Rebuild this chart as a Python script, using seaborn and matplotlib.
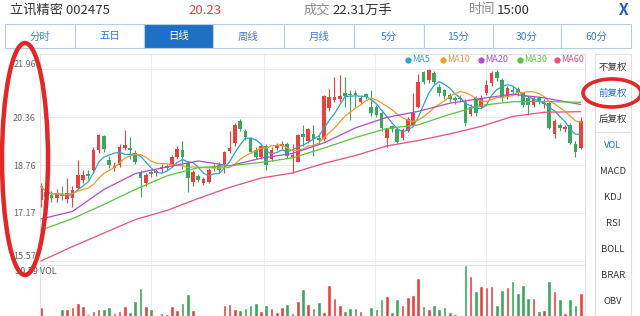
import numpy as np
import pandas as pd
import matplotlib
matplotlib.use("Agg")
import matplotlib.pyplot as plt
import seaborn as sns
from matplotlib.patches import Ellipse, Rectangle
from matplotlib.lines import Line2D

sns.set_theme(style="white")
plt.rcParams['font.family'] = ['Noto Sans CJK SC', 'DejaVu Sans']

# ---------------- data ----------------
stock_name = "立讯精密 002475"
last_price = "20.23"
volume_text = "22.31万手"
time_text = "15:00"

opens = [17.60, 17.85, 17.78, 17.66, 17.80, 17.65, 17.66, 17.99, 18.27, 18.47,
         18.60, 19.27, 19.73, 18.93, 18.68, 18.77, 19.32, 19.33, 19.15, 18.54,
         18.18, 18.52, 18.50, 18.62, 18.72, 18.77, 19.04, 19.27, 18.82, 18.21,
         18.40, 18.18, 18.21, 18.72, 18.77, 18.80, 19.24, 19.49, 20.23, 19.88,
         19.65, 19.27, 19.02, 19.40, 18.95, 19.32, 19.40, 19.47, 19.02, 18.88,
         19.80, 19.56, 19.80, 19.68, 19.62, 20.65, 20.93, 20.95, 21.15, 21.12,
         21.15, 20.87, 21.12, 20.71, 20.68, 20.49, 19.65, 20.05, 19.95, 19.65,
         19.91, 20.10, 20.71, 21.85, 21.60, 21.82, 21.37, 21.26, 21.09, 21.00,
         21.00, 20.87, 20.46, 20.98, 20.71, 21.15, 21.48, 21.87, 21.60, 21.04,
         21.25, 21.30, 21.15, 21.00, 20.76, 21.00, 20.80, 20.82, 19.80, 20.10,
         19.97, 20.10, 19.47, 19.33]
highs = [18.16, 17.95, 17.90, 17.95, 18.05, 18.32, 18.05, 18.93, 18.60, 18.60,
         19.35, 19.80, 19.76, 19.05, 18.85, 19.45, 19.93, 19.70, 19.25, 18.60,
         18.50, 18.60, 18.62, 18.80, 18.80, 19.10, 19.40, 19.55, 18.90, 18.60,
         18.45, 18.35, 18.65, 18.80, 18.85, 19.22, 19.88, 20.15, 20.30, 19.95,
         19.70, 19.35, 19.45, 19.45, 19.35, 19.50, 19.55, 19.52, 19.47, 19.80,
         20.10, 20.00, 20.10, 19.75, 21.10, 21.30, 21.71, 21.76, 21.70, 21.25,
         21.26, 21.05, 21.15, 21.26, 20.75, 20.55, 20.00, 20.10, 20.00, 20.00,
         20.35, 21.15, 21.80, 21.90, 21.96, 21.88, 21.45, 21.30, 21.15, 21.05,
         21.10, 20.95, 20.80, 21.05, 21.10, 21.60, 21.88, 21.92, 21.65, 21.40,
         21.40, 21.35, 21.20, 21.05, 21.05, 21.05, 20.95, 20.90, 20.30, 20.15,
         20.10, 20.15, 19.55, 20.35]
lows = [17.38, 17.60, 17.55, 17.55, 17.60, 17.50, 17.38, 17.95, 18.15, 18.30,
        18.55, 19.15, 19.20, 18.65, 18.55, 18.70, 19.25, 18.95, 18.80, 17.71,
        18.05, 18.35, 18.40, 18.50, 18.55, 18.70, 18.95, 18.62, 17.88, 18.05,
        18.20, 18.10, 18.15, 18.55, 18.50, 18.50, 19.15, 19.40, 19.90, 19.60,
        19.15, 18.95, 18.98, 18.60, 18.90, 19.25, 19.30, 19.00, 18.49, 18.85,
        19.40, 19.50, 19.05, 19.45, 19.55, 20.55, 20.85, 20.85, 20.70, 20.26,
        20.70, 20.80, 20.95, 20.40, 20.35, 19.90, 19.38, 19.85, 19.50, 19.60,
        19.85, 20.05, 20.65, 21.45, 21.50, 21.45, 21.05, 20.95, 20.85, 20.80,
        20.85, 20.05, 20.40, 20.40, 20.65, 21.10, 21.40, 21.55, 20.90, 20.95,
        21.10, 21.05, 20.70, 20.42, 20.70, 20.78, 20.65, 19.95, 19.65, 19.90,
        19.85, 19.45, 19.04, 19.30]
closes = [18.05, 17.70, 17.68, 17.80, 17.72, 17.82, 17.93, 18.43, 18.43, 18.40,
          19.27, 19.76, 19.29, 18.77, 18.73, 19.38, 19.43, 19.27, 18.88, 18.32,
          18.43, 18.45, 18.55, 18.71, 18.66, 19.04, 19.29, 19.04, 18.32, 18.54,
          18.27, 18.29, 18.60, 18.65, 18.60, 19.19, 19.34, 20.10, 19.95, 19.71,
          19.21, 19.04, 19.40, 18.77, 19.27, 19.43, 19.47, 19.07, 19.10, 19.76,
          19.71, 19.95, 19.62, 19.60, 21.06, 21.02, 21.04, 21.05, 21.06, 21.10,
          21.08, 20.98, 21.04, 20.49, 20.43, 19.99, 19.95, 19.95, 19.54, 19.93,
          20.29, 20.49, 21.54, 21.54, 21.93, 21.54, 21.15, 21.06, 20.95, 20.93,
          20.95, 20.15, 20.71, 20.49, 20.98, 21.43, 21.82, 21.65, 20.98, 21.32,
          21.20, 21.15, 20.76, 20.76, 20.95, 20.85, 20.83, 19.99, 20.24, 19.99,
          20.02, 19.49, 19.21, 20.23]
volumes = [18.1, 15.6, 12.0, 13.0, 17.3, 17.5, 17.9, 19.3, 18.2, 15.9,
           16.7, 17.4, 17.4, 18.1, 16.2, 16.9, 18.3, 16.5, 19.8, 23.7,
           18.3, 17.4, 15.6, 16.3, 15.9, 18.3, 17.1, 19.3, 21.8, 17.0,
           15.5, 13.0, 12.5, 13.5, 15.5, 18.5, 18.9, 17.3, 17.2, 17.7,
           18.6, 19.1, 16.8, 18.6, 17.6, 16.6, 17.9, 18.9, 16.2, 19.8,
           23.5, 18.9, 17.6, 19.4, 16.6, 24.6, 20.6, 18.5, 16.8, 17.7,
           17.6, 16.8, 14.0, 18.1, 17.4, 20.3, 21.3, 16.4, 20.5, 18.5,
           20.9, 21.6, 26.6, 18.3, 17.3, 18.6, 17.3, 18.1, 16.5, 16.0,
           15.6, 30.59, 27.2, 22.7, 24.4, 24.1, 24.3, 18.6, 23.1, 24.0,
           25.8, 22.3, 24.6, 20.6, 20.7, 16.8, 17.0, 25.8, 22.8, 20.3,
           16.3, 20.4, 18.6, 22.31]

ma_idx = [0, 6, 12, 18, 24, 30, 36, 42, 48, 54, 60, 66, 72, 78, 84, 90, 96, 103]
ma20 = [16.97, 17.22, 17.95, 18.48, 18.70, 18.90, 18.74, 18.99, 19.15, 19.50,
        20.00, 20.35, 20.55, 20.82, 20.98, 21.12, 21.00, 20.78]
ma30 = [16.60, 16.98, 17.45, 17.95, 18.40, 18.68, 18.74, 18.85, 19.00, 19.33,
        19.68, 19.98, 20.10, 20.45, 20.75, 20.87, 20.88, 20.85]
ma60 = [15.57, 16.05, 16.50, 16.95, 17.25, 17.65, 18.02, 18.33, 18.50, 18.82,
        19.08, 19.40, 19.58, 19.80, 20.05, 20.38, 20.52, 20.54]

price_ticks = [21.96, 20.36, 18.76, 17.17, 15.57]
vol_max = 30.59
tabs = ['分时', '五日', '日线', '周线', '月线', '5分', '15分', '30分', '60分']
side_items = ['不复权', '前复权', '后复权', 'VOL', 'MACD', 'KDJ', 'RSI', 'BOLL', 'BRAR', 'OBV']
ma_names = ['MA5', 'MA10', 'MA20', 'MA30', 'MA60']

# ---------------- style ----------------
RED = '#e8423f'
GREEN = '#3da65e'
MA_COLORS = ['#27a7c9', '#ee9b2c', '#b04ad2', '#5ac43c', '#e8507a']
GRID = '#ececec'
BLUE = '#1f6fc5'

W, H = 640, 316
def fx(x): return x / W
def fy(y): return 1 - y / H

fig = plt.figure(figsize=(W / 100, H / 100), dpi=100)
fig.patch.set_facecolor('white')

left_px, right_px = 40, 585
ax = fig.add_axes([fx(left_px), fy(265), fx(right_px) - fx(left_px), fy(54) - fy(265)])
axv = fig.add_axes([fx(left_px), fy(367), fx(right_px) - fx(left_px), fy(265) - fy(367)])

n = len(closes)
idx = np.arange(n)
o = np.array(opens); c = np.array(closes); hi = np.array(highs); lo = np.array(lows)
up = c >= o
cols = np.where(up, RED, GREEN)

# candles
ax.vlines(idx, lo, hi, colors=cols, lw=0.8, zorder=2)
body_bot = np.minimum(o, c)
body_h = np.maximum(np.abs(c - o), 0.035)
ax.bar(idx, body_h, bottom=body_bot, width=0.7, color=cols, lw=0, zorder=2)

# moving averages
close_s = pd.Series(closes)
ma5 = close_s.rolling(5, min_periods=1).mean()
ma10 = close_s.rolling(10, min_periods=1).mean()
sns.lineplot(x=idx, y=ma5.values, color=MA_COLORS[0], lw=0.9, ax=ax, zorder=3)
sns.lineplot(x=idx, y=ma10.values, color=MA_COLORS[1], lw=0.9, ax=ax, zorder=3)
sns.lineplot(x=ma_idx, y=ma20, color=MA_COLORS[2], lw=0.9, ax=ax, zorder=3)
sns.lineplot(x=ma_idx, y=ma30, color=MA_COLORS[3], lw=0.9, ax=ax, zorder=3)
sns.lineplot(x=ma_idx, y=ma60, color=MA_COLORS[4], lw=0.9, ax=ax, zorder=3)

# price axis scale: max label at y=69 px, min label at y=261 px
p_max, p_min = price_ticks[0], price_ticks[-1]
ppu = (261 - 69) / (p_max - p_min)
ax.set_ylim(p_max - (265 - 69) / ppu, p_max + (69 - 54) / ppu)
step = (580.7 - 41) / (n - 1)
xl = ((left_px - 41) / step, (right_px - 41) / step)
ax.set_xlim(*xl)
ax.set_yticks(price_ticks)
ax.set_yticklabels([f"{t:.2f}" for t in price_ticks])
ax.tick_params(axis='y', length=0, pad=3, labelsize=6.5, labelcolor='#666666')
ax.set_xticks([])
ax.yaxis.get_ticklabels()[0].set_va('bottom')
ax.yaxis.get_ticklabels()[-1].set_va('bottom')
for t in price_ticks:
    ax.axhline(t, color=GRID, lw=0.7, zorder=0)
for xv in [21, 42.5, 63.7, 85]:
    ax.axvline(xv, color=GRID, lw=0.7, zorder=0)
    axv.axvline(xv, color=GRID, lw=0.7, zorder=0)
for sp in ax.spines.values():
    sp.set_color('#e2e2e2'); sp.set_linewidth(0.8)
ax.set_xlabel(''); ax.set_ylabel('')

# volume
df_v = pd.DataFrame({'i': idx, 'vol': volumes, 'dir': np.where(up, 'up', 'down')})
sns.barplot(data=df_v, x='i', y='vol', hue='dir', palette={'up': RED, 'down': GREEN},
            native_scale=True, dodge=False, width=0.7, errorbar=None, legend=False,
            saturation=1, ax=axv, zorder=2)
axv.set_xlim(*xl)
axv.set_ylim(0, vol_max)
axv.set_xticks([]); axv.set_yticks([])
axv.set_xlabel(''); axv.set_ylabel('')
for sp in axv.spines.values():
    sp.set_color('#e2e2e2'); sp.set_linewidth(0.8)
fig.text(fx(15), fy(271), f"{vol_max:.2f} VOL", fontsize=6.5, color='#555555', va='center', ha='left')

# legend
leg_dot_x = [408, 443, 481, 520, 557]
for name, colr, xd in zip(ma_names, MA_COLORS, leg_dot_x):
    fig.add_artist(Line2D([fx(xd)], [fy(60)], marker='o', ms=3.5, color=colr, lw=0,
                          transform=fig.transFigure))
    fig.text(fx(xd + 4), fy(60), name, fontsize=6.5, color=colr, va='center', ha='left')

# header
fig.text(fx(10), fy(10), stock_name, fontsize=9.5, color='#333333', va='center', ha='left')
fig.text(fx(205), fy(10), last_price, fontsize=9.5, color='#e04040', va='center', ha='center')
fig.text(fx(304), fy(10), "成交", fontsize=9.5, color='#8a8a8a', va='center', ha='left')
fig.text(fx(332), fy(10), volume_text, fontsize=9.5, color='#333333', va='center', ha='left')
fig.text(fx(469), fy(10), "时间", fontsize=9.5, color='#8a8a8a', va='center', ha='left')
fig.text(fx(497), fy(10), time_text, fontsize=9.5, color='#333333', va='center', ha='left')
fig.text(fx(624), fy(10), "X", fontsize=11, color='#1f5fbf', va='center', ha='center', fontweight='bold')

# tabs
tab_edges = [5, 75, 144, 213, 284, 354, 424, 493, 561, 631]
for k, name in enumerate(tabs):
    x0, x1 = tab_edges[k], tab_edges[k + 1]
    sel = (k == 2)
    fig.add_artist(Rectangle((fx(x0), fy(48)), fx(x1) - fx(x0), fy(24) - fy(48),
                             transform=fig.transFigure, fc=BLUE if sel else 'white',
                             ec='#b3cdea', lw=0.8))
    fig.text(fx((x0 + x1) / 2), fy(36.5), name, fontsize=7.5,
             color='white' if sel else '#3b7fd2', va='center', ha='center')

# right side panel
fig.add_artist(Rectangle((fx(595), fy(316)), fx(631) - fx(595), fy(54) - fy(316),
                         transform=fig.transFigure, fc='white', ec='#e0e0e0', lw=0.8))
fig.add_artist(Line2D([fx(595), fx(631)], [fy(132), fy(132)], color='#e0e0e0', lw=0.8,
                      transform=fig.transFigure))
side_y = [67, 93, 119, 146, 172, 197, 223, 249, 275, 301]
for name, yy in zip(side_items, side_y):
    colr = BLUE if name in ('前复权', 'VOL') else '#333333'
    fig.text(fx(613), fy(yy), name, fontsize=6.8, color=colr, va='center', ha='center')

# red hand-drawn ellipses
fig.add_artist(Ellipse((fx(25), fy(159)), 46 / W, 232 / H, transform=fig.transFigure,
                       fill=False, ec='#e32626', lw=3.2, zorder=10))
fig.add_artist(Ellipse((fx(612), fy(93)), 58 / W, 28 / H, transform=fig.transFigure,
                       fill=False, ec='#e32626', lw=2.6, zorder=10))

fig.savefig("out.png", dpi=100)
